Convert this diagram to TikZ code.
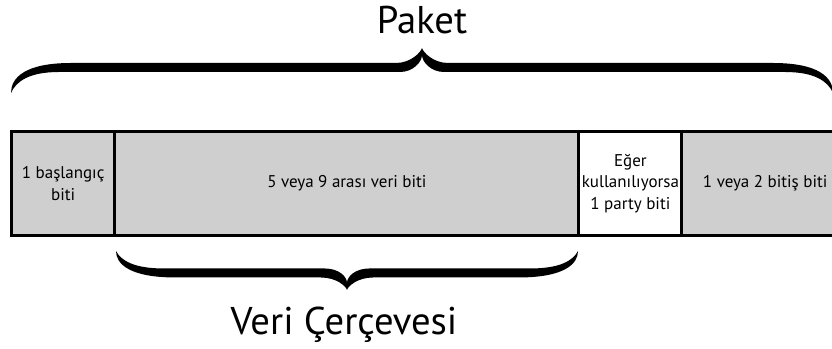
\documentclass[tikz,border=0pt]{standalone}
\usepackage{fontspec}
\setmainfont{PT Sans}
\usetikzlibrary{positioning}

% tapered curly brace: #1 left x, #2 right x, #3 y of the ends,
% #4 rise from the ends to the band, #5 rise from the band to the tip,
% #6 direction (-1 tip up, 1 tip down)
\newcommand{\curlybrace}[6]{%
  \begin{scope}[shift={(#1,#3)}, yscale=#6]
    \pgfmathsetmacro\bm{(#2-#1)/2}
    \pgfmathsetmacro\blo{#4-4.5}
    \pgfmathsetmacro\bhi{#4+4.5}
    \pgfmathsetmacro\btip{#4+#5}
    \fill[bracefill] (0,0) .. controls (5,{0.55*\blo}) and (18,\blo) .. (48,\blo)
      -- ({\bm-22},\blo) .. controls ({\bm-9},\blo) and (\bm,{\btip-14}) .. (\bm,{\btip-7})
      .. controls (\bm,{\btip-14}) and ({\bm+9},\blo) .. ({\bm+22},\blo)
      -- ({2*\bm-48},\blo) .. controls ({2*\bm-18},\blo) and ({2*\bm-5},{0.55*\blo}) .. ({2*\bm},0)
      .. controls ({2*\bm},{0.6*#4}) and ({2*\bm-14},\bhi) .. ({2*\bm-60},\bhi)
      -- ({\bm+26},\bhi) .. controls ({\bm+11},\bhi) and ({\bm+1},{\btip-4}) .. (\bm,\btip)
      .. controls ({\bm-1},{\btip-4}) and ({\bm-11},\bhi) .. ({\bm-26},\bhi)
      -- (60,\bhi) .. controls (14,\bhi) and (0,{0.6*#4}) .. (0,0) -- cycle;
  \end{scope}}

\begin{document}
\begin{tikzpicture}[x=0.03cm, y=-0.03cm,
    field/.style={draw, line width=2.4pt, fill=black!19, outer sep=0pt,
        minimum height=3.12cm, align=center, inner sep=1pt,
        font=\fontsize{14.5}{18.5}\selectfont},
    bracefill/.style={fill=black},
    title/.style={font=\fontsize{33}{40}\selectfont, anchor=base}]
\useasboundingbox (0,0) rectangle (832,349);

% Fields of the frame, left to right
\node[field, minimum width=3.1cm, anchor=north west] (start) at (11.5,131.5) {1 başlangıç\\biti};
\node[field, minimum width=13.92cm, right=0pt of start] (data) {5 veya 9 arası veri biti};
\node[field, fill=white, minimum width=3.09cm, right=0pt of data] (parity) {Eğer\\kullanılıyorsa\\1 party biti};
\node[field, minimum width=5cm, right=0pt of parity] (stop) {1 veya 2 bitiş biti};

% Brace over the whole packet
\curlybrace{11}{833}{93}{25.5}{19.5}{-1}
\node[title] (paket) at (422,34) {Paket};

% Brace under the data bits
\curlybrace{116}{578}{251}{22}{17}{1}
\node[title] (frame) at (344,335) {Veri Çerçevesi};

\end{tikzpicture}
\end{document}
